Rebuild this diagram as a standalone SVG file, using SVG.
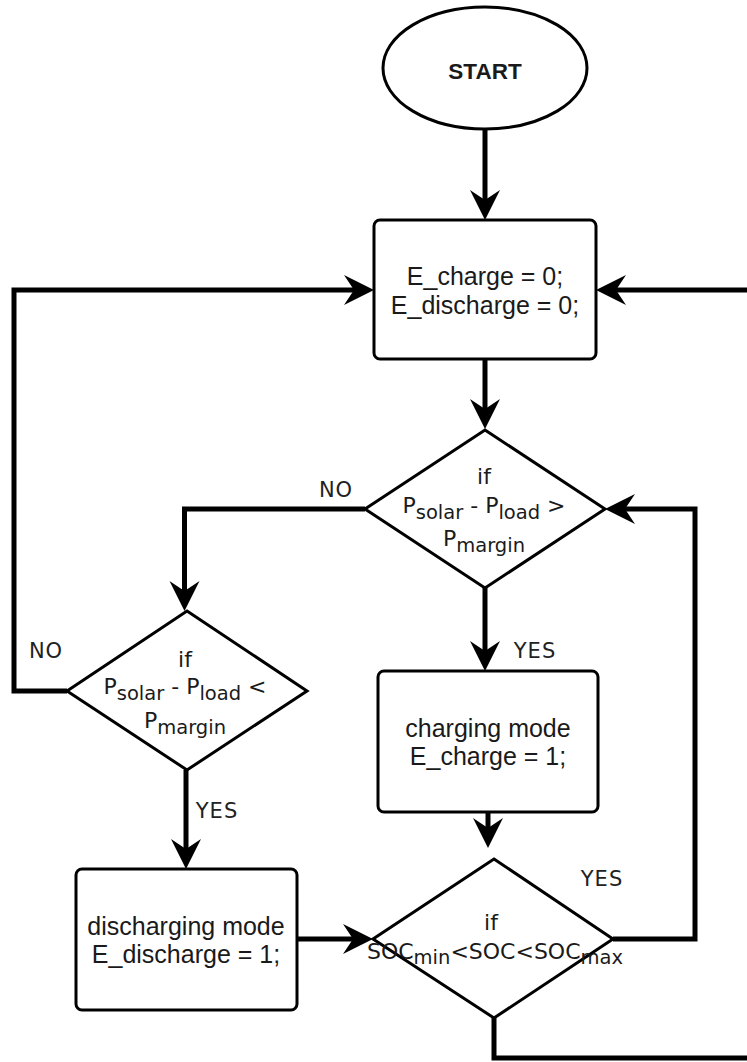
<svg xmlns="http://www.w3.org/2000/svg" width="747" height="1062" viewBox="0 0 747 1062">
<style>
.shape{fill:#fff;stroke:#000;stroke-width:3}
.conn{fill:none;stroke:#000;stroke-width:5;marker-end:url(#arr)}
.plain{fill:none;stroke:#000;stroke-width:5}
.bt{font-family:"Liberation Sans",Arial,sans-serif;font-size:25px;fill:#1a1a1a;text-anchor:middle}
.dt{font-family:"DejaVu Sans",Verdana,sans-serif;font-size:22px;fill:#1a1a1a;text-anchor:middle}
.sub{font-size:19.5px}
.lbl{font-family:"DejaVu Sans",Verdana,sans-serif;font-size:21px;fill:#222;text-anchor:middle;letter-spacing:1px}
.st{font-family:"Liberation Sans",Arial,sans-serif;font-size:22.5px;font-weight:bold;fill:#1a1a1a;text-anchor:middle}
</style>
<defs>
<marker id="arr" markerUnits="userSpaceOnUse" viewBox="-12 -17 34 34" markerWidth="34" markerHeight="34" refX="0" refY="0" orient="auto" overflow="visible">
<path d="M20,0 L-10,-15 L0,0 L-10,15 Z" fill="#000"/>
</marker>
</defs>
<rect width="747" height="1062" fill="#fff"/>
<g id="connectors">
<path class="conn" d="M485,129 V200"/>
<path class="conn" d="M485,359 V409"/>
<path class="conn" d="M613,939 H695 V509 H625"/>
<path class="conn" d="M747,290 H616"/>
<path class="conn" d="M67,691 H14 V290 H354"/>
<path class="conn" d="M365,509 H184.5 V591"/>
<path class="conn" d="M485,588 V651"/>
<path class="conn" d="M488,812 V828"/>
<path class="conn" d="M186,770 V849"/>
<path class="conn" d="M297,939 H353"/>
<path class="plain" d="M494,1018 V1058 H747"/>
</g>
<g id="start">
<ellipse class="shape" cx="485" cy="68" rx="102" ry="61"/>
<text class="st" x="485" y="79">START</text>
</g>
<g id="init">
<rect class="shape" x="374" y="220" width="222" height="139" rx="6"/>
<text class="bt" x="485" y="285">E_charge = 0;</text>
<text class="bt" x="485" y="314">E_discharge = 0;</text>
</g>
<g id="cond1">
<polygon class="shape" points="485,430 605,509 485,588 365,509"/>
<text class="dt" x="484" y="484">if</text>
<text class="dt" x="484" y="513">P<tspan class="sub" dy="6">solar</tspan><tspan dy="-6"> - P</tspan><tspan class="sub" dy="6">load</tspan><tspan dy="-6"> &gt;</tspan></text>
<text class="dt" x="484" y="546">P<tspan class="sub" dy="6">margin</tspan></text>
</g>
<g id="cond2">
<polygon class="shape" points="187,611 307,691 187,770 67,691"/>
<text class="dt" x="185" y="667">if</text>
<text class="dt" x="185" y="694">P<tspan class="sub" dy="6">solar</tspan><tspan dy="-6"> - P</tspan><tspan class="sub" dy="6">load</tspan><tspan dy="-6"> &lt;</tspan></text>
<text class="dt" x="185" y="728">P<tspan class="sub" dy="6">margin</tspan></text>
</g>
<g id="charging">
<rect class="shape" x="378" y="671" width="220" height="141" rx="6"/>
<text class="bt" x="488" y="737">charging mode</text>
<text class="bt" x="488" y="765">E_charge = 1;</text>
</g>
<g id="discharging">
<rect class="shape" x="76" y="869" width="221" height="141" rx="6"/>
<text class="bt" x="186" y="935">discharging mode</text>
<text class="bt" x="186" y="963">E_discharge = 1;</text>
</g>
<g id="cond3">
<polygon class="shape" points="494,859 613,939 494,1018 373,939"/>
<text class="dt" x="491" y="930">if</text>
<text class="dt" x="495" y="959">SOC<tspan class="sub" dy="5">min</tspan><tspan dy="-5">&lt;SOC&lt;SOC</tspan><tspan class="sub" dy="5">max</tspan></text>
</g>
<g id="labels">
<text class="lbl" x="336" y="497">NO</text>
<text class="lbl" x="46" y="658">NO</text>
<text class="lbl" x="535" y="658">YES</text>
<text class="lbl" x="217" y="818">YES</text>
<text class="lbl" x="602" y="886">YES</text>
</g>
</svg>
